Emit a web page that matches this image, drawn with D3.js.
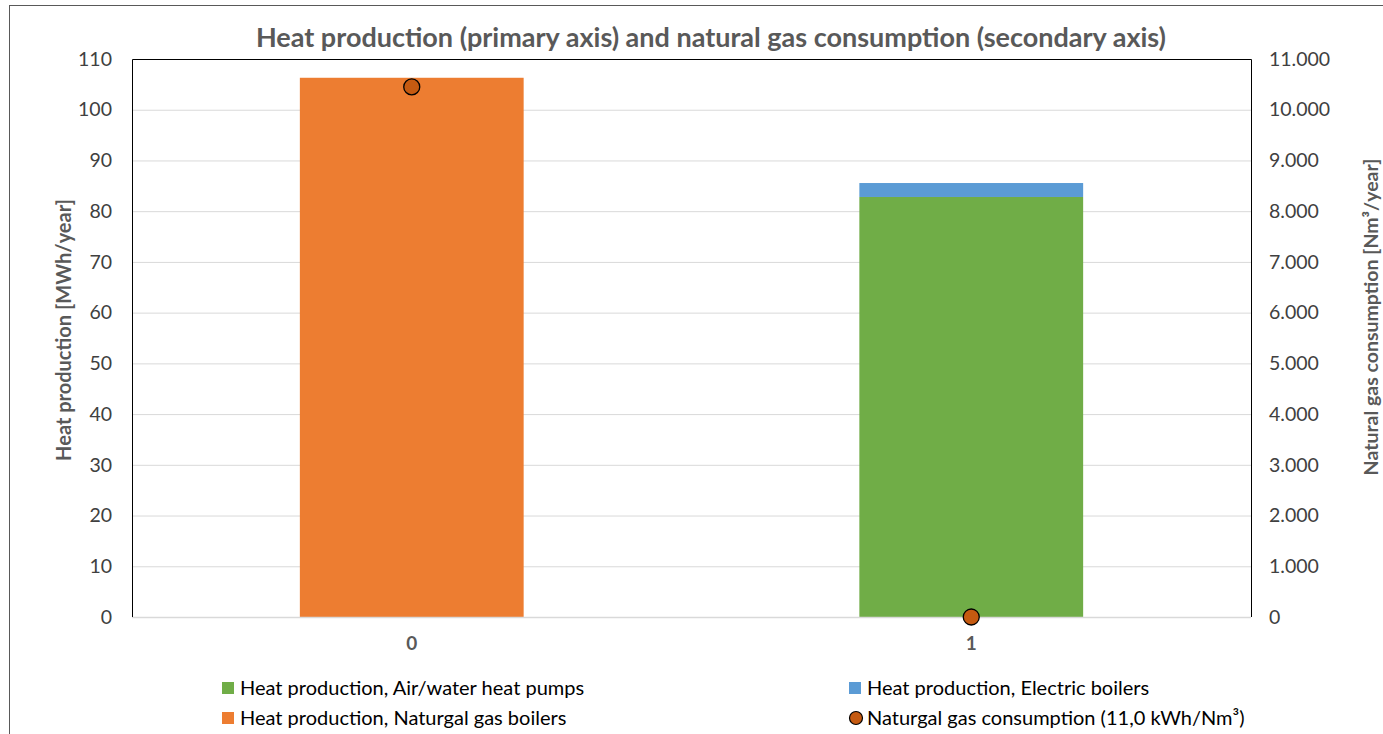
<!DOCTYPE html>
<html><head><meta charset="utf-8">
<script src="https://cdn.jsdelivr.net/npm/d3@7"></script>
<style>body{margin:0;background:#fff}svg{display:block}text{font-family:Lato,"Open Sans",sans-serif}</style>
</head><body><svg id="c" width="1383" height="734"></svg>
<script>
const categories = ["0", "1"];
const heatPumps = [0, 82.8];
const electricBoilers = [0, 2.75];
const gasBoilers = [106.3, 0];
const gasConsumption = [10450, 0];
const leftTicks = [0,10,20,30,40,50,60,70,80,90,100,110];
const rightTicks = [0,1000,2000,3000,4000,5000,6000,7000,8000,9000,10000,11000];
const seriesNames = ["Heat production, Air/water heat pumps","Heat production, Electric boilers","Heat production, Naturgal gas boilers","Naturgal gas consumption (11,0 kWh/Nm³)"];
const colors = ["#70ad47","#5b9bd5","#ed7d31","#c55a11"];

const svg = d3.select("#c");
const W=1383,H=734;
const m={l:132,r:1251,t:59,b:617};
svg.append("rect").attr("x",9.5).attr("y",5.5).attr("width",W).attr("height",H).attr("fill","#fff").attr("stroke","#595959").attr("stroke-width",1);

const x = d3.scaleBand().domain(categories).range([m.l,m.r]).paddingInner(0.6).paddingOuter(0.3);
const y = d3.scaleLinear().domain([0,110]).range([m.b,m.t]);
const y2 = d3.scaleLinear().domain([0,11000]).range([m.b,m.t]);

// gridlines
svg.append("g").selectAll("line").data(leftTicks.filter(d=>d>0&&d<110)).join("line")
  .attr("x1",m.l).attr("x2",m.r).attr("y1",d=>y(d)+0.5).attr("y2",d=>y(d)+0.5)
  .attr("stroke","#d9d9d9").attr("stroke-width",1);

// stacked bars
const stackData = categories.map((c,i)=>({cat:c,hp:heatPumps[i],eb:electricBoilers[i],gb:gasBoilers[i]}));
const stack = d3.stack().keys(["hp","eb","gb"])(stackData);
svg.append("g").selectAll("g").data(stack).join("g").attr("fill",(d,i)=>colors[i])
  .selectAll("rect").data(d=>d).join("rect")
  .attr("x",d=>x(d.data.cat)).attr("width",x.bandwidth())
  .attr("y",d=>y(d[1])).attr("height",d=>y(d[0])-y(d[1]));

// bottom axis line
svg.append("line").attr("x1",m.l).attr("x2",m.r).attr("y1",m.b+0.5).attr("y2",m.b+0.5).attr("stroke","#d9d9d9").attr("stroke-width",1.5);
// plot frame left/top/right
svg.append("path").attr("d",`M${m.l+0.5},${m.b}V${m.t+0.5}H${m.r+0.5}V${m.b}`).attr("fill","none").attr("stroke","#000").attr("stroke-width",1);

// scatter
svg.append("g").selectAll("circle").data(categories).join("circle")
  .attr("cx",d=>x(d)+x.bandwidth()/2).attr("cy",(d,i)=>y2(gasConsumption[i]))
  .attr("r",8).attr("fill",colors[3]).attr("stroke","#000").attr("stroke-width",1.3);

// axes
const la = svg.append("g").attr("transform",`translate(${m.l},0)`).call(d3.axisLeft(y).tickValues(leftTicks).tickSize(0).tickPadding(20));
la.select(".domain").remove();
la.selectAll("text").attr("font-size",19.5).attr("fill","#404040").attr("font-family","Lato, sans-serif");
const ra = svg.append("g").attr("transform",`translate(${m.r},0)`).call(d3.axisRight(y2).tickValues(rightTicks).tickSize(0).tickPadding(18).tickFormat(d=>d3.format(",")(d).replace(/,/g,".")));
ra.select(".domain").remove();
ra.selectAll("text").attr("font-size",19.5).attr("fill","#404040").attr("font-family","Lato, sans-serif");
const ba = svg.append("g").attr("transform",`translate(0,${m.b})`).call(d3.axisBottom(x).tickSize(0).tickPadding(20));
ba.select(".domain").remove();
ba.selectAll("text").attr("font-size",19).attr("font-weight","bold").attr("fill","#595959").attr("font-family","Lato, sans-serif");

// titles
svg.append("text").attr("x",711).attr("y",47).attr("text-anchor","middle").attr("font-size",27).attr("font-weight","bold").attr("fill","#595959")
  .text("Heat production (primary axis) and natural gas consumption (secondary axis)");
svg.append("text").attr("transform","translate(71,330) rotate(-90)").attr("text-anchor","middle").attr("font-size",20).attr("font-weight","bold").attr("fill","#595959").text("Heat production [MWh/year]");
svg.append("text").attr("transform","translate(1378,317) rotate(-90)").attr("text-anchor","middle").attr("font-size",19.5).attr("font-weight","bold").attr("fill","#595959").text("Natural gas consumption [Nm³/year]");

// legend
const leg = [{i:0,x:222,y:688},{i:1,x:849,y:688},{i:2,x:222,y:718},{i:3,x:849,y:718}];
const lg = svg.append("g").selectAll("g").data(leg).join("g").attr("transform",d=>`translate(${d.x},${d.y})`);
lg.each(function(d){
  const g=d3.select(this);
  if(d.i===3) g.append("circle").attr("cx",7).attr("cy",0).attr("r",6.5).attr("fill",colors[3]).attr("stroke","#000").attr("stroke-width",1.2);
  else g.append("rect").attr("x",0).attr("y",-6).attr("width",12).attr("height",12).attr("fill",colors[d.i]);
  g.append("text").attr("x",18).attr("y",7).attr("font-size",20).attr("fill","#000").text(seriesNames[d.i]);
});
</script></body></html>
